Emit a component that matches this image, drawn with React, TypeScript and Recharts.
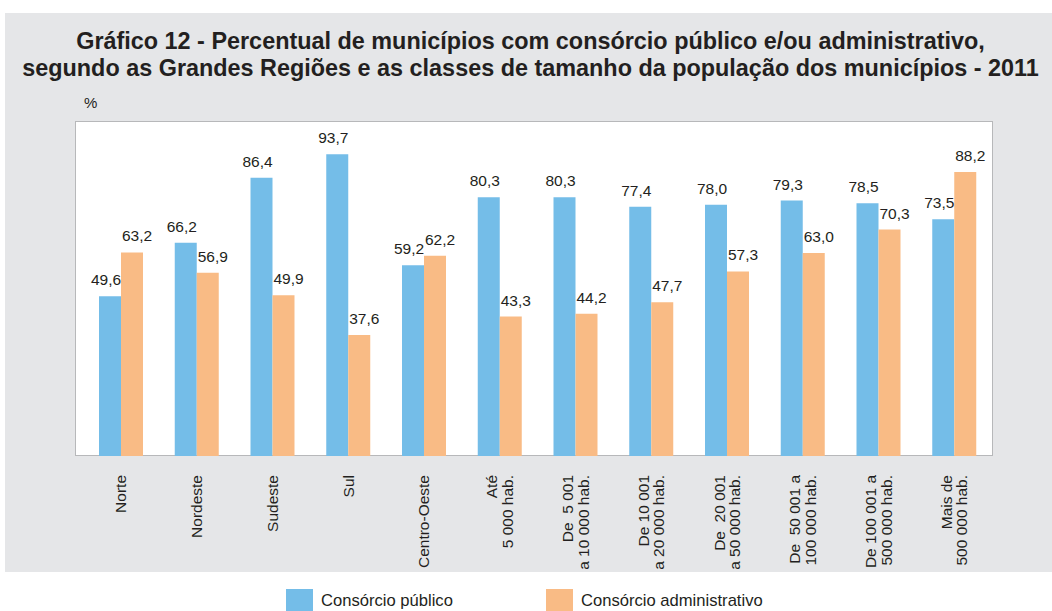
import React from 'react'
import { Bar, BarChart, LabelList, XAxis, YAxis } from 'recharts'

const categories: string[][] = [
  ['Norte'],
  ['Nordeste'],
  ['Sudeste'],
  ['Sul'],
  ['Centro-Oeste'],
  ['Até', '5 000 hab.'],
  ['De  5 001', 'a 10 000 hab.'],
  ['De 10 001', 'a 20 000 hab.'],
  ['De  20 001', 'a 50 000 hab.'],
  ['De  50 001 a', '100 000 hab.'],
  ['De 100 001 a', '500 000 hab.'],
  ['Mais de', '500 000 hab.'],
]
const publico = [49.6, 66.2, 86.4, 93.7, 59.2, 80.3, 80.3, 77.4, 78.0, 79.3, 78.5, 73.5]
const administrativo = [63.2, 56.9, 49.9, 37.6, 62.2, 43.3, 44.2, 47.7, 57.3, 63.0, 70.3, 88.2]

const data = categories.map((lines, i) => ({
  key: lines.join('|'),
  publico: publico[i],
  administrativo: administrativo[i],
}))

const BLUE = '#74bde8'
const ORANGE = '#f9bb85'
const GRAY_BG = '#e5e6e8'
const TEXT = '#231f20'
const FONT = '"Liberation Sans", Arial, Helvetica, sans-serif'

// plot box in page coordinates
const W = 1052
const H = 611
const PLOT_LEFT = 75
const PLOT_TOP = 121
const PLOT_RIGHT = 993
const PLOT_BOTTOM = 456
const XAXIS_H = 110

const fmt = (v: any) => Number(v).toFixed(1).replace('.', ',')

function CategoryTick(props: any) {
  const { x, y, payload } = props
  const lines: string[] = String(payload.value).split('|')
  const lh = 15.5
  return (
    <g transform={`translate(${x},${y})`}>
      <text
        transform="rotate(-90)"
        textAnchor="end"
        fill={TEXT}
        fontSize={15.5}
        fontFamily={FONT}
        style={{ whiteSpace: 'pre' }}
      >
        {lines.map((l, i) => (
          <tspan key={i} x={-11} y={i * lh - ((lines.length - 1) * lh) / 2} dy="0.36em">
            {l}
          </tspan>
        ))}
      </text>
    </g>
  )
}

export default function App() {
  return (
    <div style={{ position: 'absolute', left: 0, top: 0, width: W, height: H, background: '#fff', overflow: 'hidden', fontFamily: FONT }}>
      <div style={{ position: 'absolute', left: 5, top: 13, width: W - 5, height: 559, background: GRAY_BG }} />
      <div
        style={{
          position: 'absolute',
          left: 7,
          top: 28,
          width: W - 5,
          textAlign: 'center',
          fontWeight: 'bold',
          fontSize: 23.4,
          lineHeight: '27px',
          color: TEXT,
          whiteSpace: 'nowrap',
        }}
      >
        Gráfico 12 - Percentual de municípios com consórcio público e/ou administrativo,
        <br />
        segundo as Grandes Regiões e as classes de tamanho da população dos municípios - 2011
      </div>
      <div style={{ position: 'absolute', left: 84, top: 94, fontSize: 15, color: TEXT }}>%</div>
      <div
        style={{
          position: 'absolute',
          left: PLOT_LEFT,
          top: PLOT_TOP,
          width: PLOT_RIGHT - PLOT_LEFT,
          height: PLOT_BOTTOM - PLOT_TOP,
          background: '#fff',
          boxSizing: 'border-box',
          border: '1.5px solid #b7b8ba',
        }}
      />
      <div style={{ position: 'absolute', left: 0, top: 0 }}>
        <BarChart
          width={W}
          height={H}
          data={data}
          barGap={0}
          barSize={22}
          margin={{ top: PLOT_TOP, left: PLOT_LEFT, right: W - PLOT_RIGHT, bottom: H - PLOT_BOTTOM - XAXIS_H }}
        >
          <XAxis
            dataKey="key"
            height={XAXIS_H}
            interval={0}
            axisLine={false}
            tickLine={false}
            tick={<CategoryTick />}
            padding={{ left: 8, right: 1 }}
          />
          <YAxis hide domain={[0, 104]} />
          <Bar dataKey="publico" fill={BLUE} isAnimationActive={false}>
            <LabelList dataKey="publico" position="top" offset={11} dx={-4} formatter={fmt} fill={TEXT} fontSize={15.5} fontFamily={FONT} />
          </Bar>
          <Bar dataKey="administrativo" fill={ORANGE} isAnimationActive={false}>
            <LabelList dataKey="administrativo" position="top" offset={11} dx={5} formatter={fmt} fill={TEXT} fontSize={15.5} fontFamily={FONT} />
          </Bar>
        </BarChart>
      </div>
      <div style={{ position: 'absolute', left: 286, top: 589, width: 27, height: 22, background: BLUE }} />
      <div style={{ position: 'absolute', left: 321, top: 591, fontSize: 16.6, color: TEXT }}>Consórcio público</div>
      <div style={{ position: 'absolute', left: 546, top: 589, width: 27, height: 22, background: ORANGE }} />
      <div style={{ position: 'absolute', left: 581, top: 591, fontSize: 16.6, color: TEXT }}>Consórcio administrativo</div>
    </div>
  )
}
